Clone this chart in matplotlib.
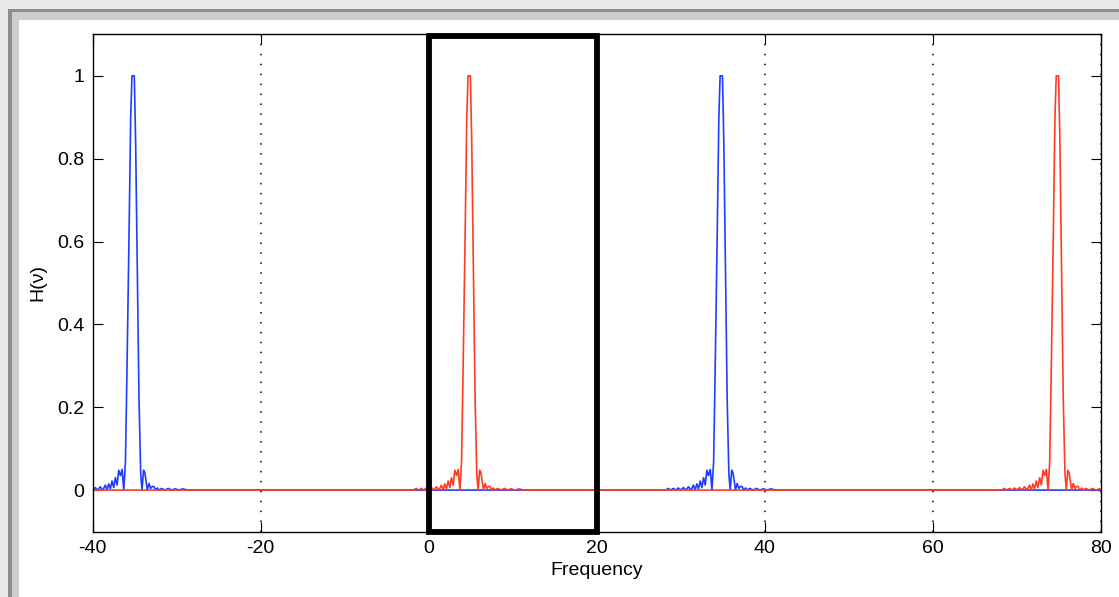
import numpy as np
import matplotlib
matplotlib.use('Agg')
import matplotlib.pyplot as plt
from matplotlib.patches import Rectangle

plt.rcParams['font.family'] = ['Liberation Sans', 'DejaVu Sans']
plt.rcParams['axes.unicode_minus'] = False

# shape of one lobe of the response, offset from its centre
peak_offsets = [-6.8, -6.5, -6.2, -5.9, -5.6, -5.3, -5.0, -4.7, -4.4, -4.1,
                -3.8, -3.5, -3.3, -3.1, -2.9, -2.7, -2.5, -2.3, -2.1, -1.9,
                -1.7, -1.5, -1.3, -1.1, -0.92, -0.68, -0.48, -0.33, -0.2, -0.05,
                0.11, 0.31, 0.51, 0.71, 0.87, 1.05, 1.2, 1.35, 1.5, 1.7,
                1.9, 2.1, 2.3, 2.5, 2.7, 2.9, 3.2, 3.6, 4.0, 4.4,
                4.8, 5.3, 5.7, 6.3, 6.6]
peak_values = [0.0, 0.004, 0.0, 0.004, 0.0, 0.005, 0.0, 0.006, 0.0, 0.008,
               0.0, 0.012, 0.0, 0.015, 0.003, 0.022, 0.006, 0.03, 0.012, 0.048,
               0.035, 0.05, 0.0, 0.07, 0.29, 0.61, 0.90, 1.0, 1.0, 1.0,
               0.84, 0.53, 0.22, 0.04, 0.0, 0.048, 0.042, 0.022, 0.0, 0.016,
               0.004, 0.009, 0.008, 0.0, 0.005, 0.0, 0.004, 0.0, 0.004, 0.0,
               0.003, 0.0, 0.003, 0.0, 0.0]

blue_centers = [-35, 35]
red_centers = [5, 75]
x_ticks = [-40, -20, 0, 20, 40, 60, 80]
y_ticks = [0, 0.2, 0.4, 0.6, 0.8, 1]
y_ticklabels = ['0', '0.2', '0.4', '0.6', '0.8', '1']
box_x = [0, 20]


def series(centers):
    off = np.array(peak_offsets)
    val = np.array(peak_values)
    xs = [np.array([-45.0])]
    ys = [np.array([0.0])]
    for c in centers:
        xs.append(c + off)
        ys.append(val)
    xs.append(np.array([85.0]))
    ys.append(np.array([0.0]))
    return np.concatenate(xs), np.concatenate(ys)


W, H = 1119, 597
fig = plt.figure(figsize=(W / 100, H / 100), dpi=100, facecolor='#e9e9e9')

# window frame look
fig.patches.append(Rectangle((8 / W, 0), 1, (H - 9) / H, transform=fig.transFigure,
                             facecolor='#8e8e8e', edgecolor='none', zorder=-3))
fig.patches.append(Rectangle((12 / W, 0), 1, (H - 12) / H, transform=fig.transFigure,
                             facecolor='#cdcdcd', edgecolor='none', zorder=-2))
fig.patches.append(Rectangle((19 / W, 0), 1, (H - 20) / H, transform=fig.transFigure,
                             facecolor='white', edgecolor='none', zorder=-1))

ax = fig.add_axes([92.7 / W, (H - 531.5) / H, (1101 - 92.7) / W, (531.5 - 34.4) / H])

bx, by = series(blue_centers)
rx, ry = series(red_centers)
ax.plot(bx, by, color='#1f3dff', lw=1.2)
ax.plot(rx, ry, color='#ff3b24', lw=1.2)

ax.set_xlim(-40, 80)
ax.set_ylim(-0.1, 1.1)
ax.set_xticks(x_ticks)
ax.set_yticks(y_ticks)
ax.set_yticklabels(y_ticklabels)
ax.tick_params(direction='in', length=7.5, width=0.8, top=True, right=True,
               labelsize=14, pad=6, colors='black')
ax.xaxis.grid(True, color='black', linestyle=(0, (1, 5.5)), lw=1.1)
for s in ax.spines.values():
    s.set_linewidth(1.0)

ax.add_patch(Rectangle((box_x[0], -0.1), box_x[1] - box_x[0], 1.197, fill=False,
                       edgecolor='black', lw=4.2, clip_on=False, zorder=5))

ax.set_xlabel('Frequency', fontsize=14, labelpad=4)
ax.set_ylabel('H(ν)', fontsize=14, labelpad=8)

fig.savefig('out.png', dpi=100, facecolor=fig.get_facecolor())
